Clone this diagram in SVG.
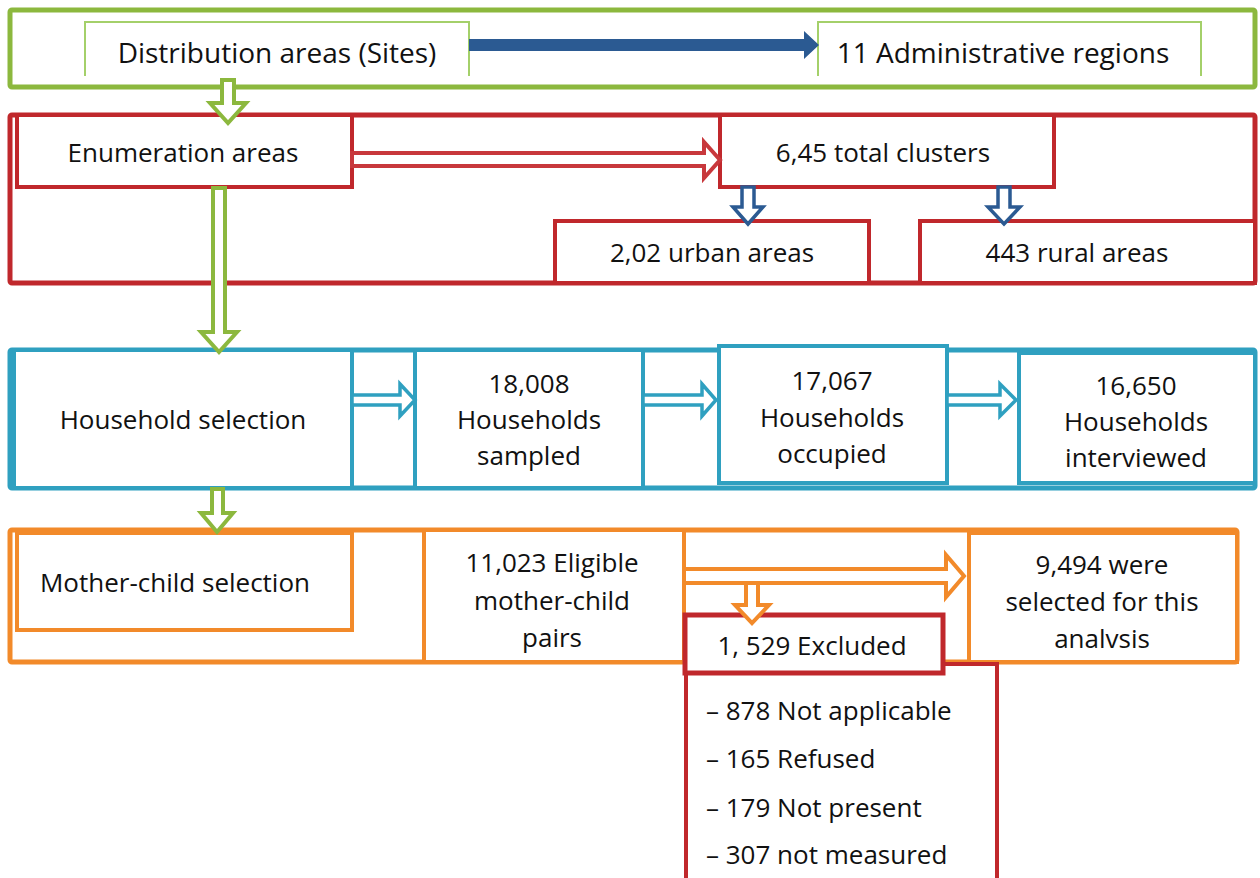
<svg xmlns="http://www.w3.org/2000/svg" width="1260" height="878" viewBox="0 0 1260 878">
<style>
text{font-family:"Open Sans","Liberation Sans",sans-serif;font-size:26px;fill:#111;text-anchor:middle;dominant-baseline:central}
.big{font-size:28px}
.g{fill:#fff;stroke:#8CB83E;stroke-width:5}
.gi{fill:none;stroke:#A4D06A;stroke-width:2}
.r{fill:#fff;stroke:#C0282C;stroke-width:5}
.ri{fill:#fff;stroke:#C0282C;stroke-width:4}
.t{fill:#fff;stroke:#2FA0C0;stroke-width:5}
.ti{fill:#fff;stroke:#2FA0C0;stroke-width:4}
.o{fill:#fff;stroke:#F28A2A;stroke-width:5}
.oi{fill:#fff;stroke:#F28A2A;stroke-width:4}
.ag{fill:#fff;stroke:#8CB83E;stroke-width:4}
.ar{fill:#fff;stroke:#C8383C;stroke-width:4}
.ab{fill:#fff;stroke:#2B5A92;stroke-width:3.5}
.at{fill:#fff;stroke:#2FA0C0;stroke-width:3.5}
.ao{fill:#fff;stroke:#F28A2A;stroke-width:4}
.l{text-anchor:start}
</style>
<rect width="1260" height="878" fill="#fff"/>
<g id="row-green">
<rect class="g" x="10" y="10" width="1245" height="77" rx="2"/>
</g>
<g id="row-red">
<rect class="r" x="10" y="115" width="1245" height="168" rx="2"/>
</g>
<g id="row-teal">
<rect class="t" x="10" y="350" width="1245" height="138" rx="2"/>
</g>
<g id="row-orange">
<rect class="o" x="10" y="530" width="1227" height="132" rx="2"/>
</g>
<g id="distribution">
<path class="gi" d="M85,76 V22 H469 V76"/>
<text class="big" x="277" y="52">Distribution areas (Sites)</text>
</g>
<g id="admin-regions">
<path class="gi" d="M818,76 V22 H1201 V76"/>
<text class="big" x="1003" y="52">11 Administrative regions</text>
</g>
<g id="enumeration">
<rect class="ri" x="17" y="115" width="335" height="72"/>
<text x="183" y="152">Enumeration areas</text>
</g>
<g id="total-clusters">
<rect class="ri" x="720" y="115" width="334" height="72"/>
<text x="883" y="152">6,45 total clusters</text>
</g>
<g id="urban">
<rect class="ri" x="555" y="221" width="314" height="62"/>
<text x="712" y="252">2,02 urban areas</text>
</g>
<g id="rural">
<rect class="ri" x="920" y="221" width="335" height="62"/>
<text x="1077" y="252">443 rural areas</text>
</g>
<g id="household-selection">
<rect class="ti" x="14" y="350" width="338" height="138"/>
<text x="183" y="419">Household selection</text>
</g>
<g id="hh-sampled">
<rect class="ti" x="415" y="350" width="228" height="138"/>
<text x="529" y="383">18,008</text>
<text x="529" y="419">Households</text>
<text x="529" y="455">sampled</text>
</g>
<g id="hh-occupied">
<rect class="ti" x="719" y="346" width="228" height="137"/>
<text x="832" y="380">17,067</text>
<text x="832" y="417">Households</text>
<text x="832" y="453">occupied</text>
</g>
<g id="hh-interviewed">
<rect class="ti" x="1019" y="353" width="236" height="130"/>
<text x="1136" y="385">16,650</text>
<text x="1136" y="421">Households</text>
<text x="1136" y="457">interviewed</text>
</g>
<g id="mother-child">
<rect class="oi" x="17" y="533" width="335" height="97"/>
<text x="175" y="582">Mother-child selection</text>
</g>
<g id="eligible">
<rect class="oi" x="424" y="530" width="260" height="132"/>
<text x="552" y="562">11,023 Eligible</text>
<text x="552" y="600">mother-child</text>
<text x="552" y="637">pairs</text>
</g>
<g id="selected">
<rect class="oi" x="969" y="533" width="268" height="129"/>
<text x="1102" y="564">9,494 were</text>
<text x="1102" y="601">selected for this</text>
<text x="1102" y="638">analvsis</text>
</g>
<g id="excluded-list">
<rect class="ri" x="686" y="664" width="311" height="230"/>
<text class="l" x="706" y="710">– 878 Not applicable</text>
<text class="l" x="706" y="758">– 165 Refused</text>
<text class="l" x="706" y="807">– 179 Not present</text>
<text class="l" x="706" y="854">– 307 not measured</text>
</g>
<g id="excluded">
<rect class="r" x="685" y="615" width="258" height="58"/>
<text x="812" y="645">1, 529 Excluded</text>
</g>
<g id="connectors">
<path d="M469,39 H804 V31 L819,45 L804,59 V51 H469 Z" fill="#2B5A92"/>
<polygon class="ag" points="222,80 234,80 234,103 246,103 228,123 210,103 222,103"/>
<polygon class="ar" points="352,153 704,153 704,142 720,160 704,178 704,166 352,166"/>
<polygon class="ab" points="742,187 754,187 754,207 763,207 748,224 733,207 742,207"/>
<polygon class="ab" points="998,187 1010,187 1010,207 1020,207 1004,224 988,207 998,207"/>
<polygon class="ag" points="213,188 225,188 225,332 237,332 219,352 201,332 213,332"/>
<polygon class="at" points="352,395 400,395 400,384 415,400 400,416 400,405 352,405"/>
<polygon class="at" points="643,395 702,395 702,384 716,400 702,416 702,405 643,405"/>
<polygon class="at" points="947,395 1000,395 1000,384 1016,400 1000,416 1000,405 947,405"/>
<polygon class="ag" points="212,489 223,489 223,513 233,513 217,532 201,513 212,513"/>
<polygon class="ao" points="684,569 946,569 946,555 964,576 946,597 946,583 684,583"/>
<polygon class="ao" points="746,583 758,583 758,605 769,605 752,623 735,605 746,605"/>
</g>
</svg>
